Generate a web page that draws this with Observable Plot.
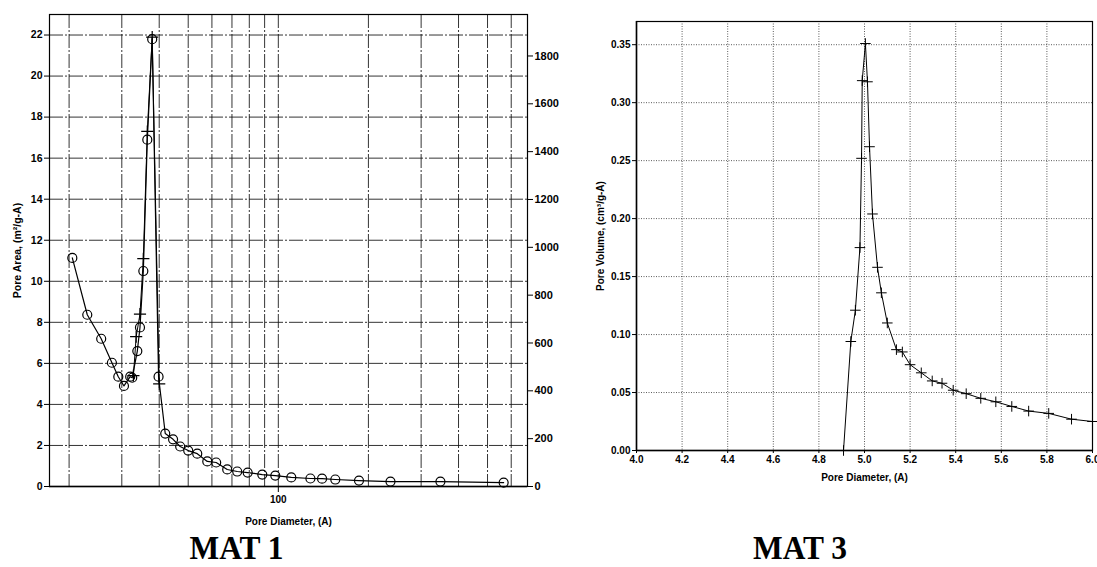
<!DOCTYPE html>
<html>
<head>
<meta charset="utf-8">
<script src="https://cdn.jsdelivr.net/npm/d3@7"></script>
<script src="https://cdn.jsdelivr.net/npm/@observablehq/plot@0.6"></script>
<style>
  html, body { margin: 0; padding: 0; background: white; }
  #wrap { position: relative; width: 1097px; height: 567px; background: white; overflow: hidden; }
  #p1 { position: absolute; left: 0; top: 0; }
  #p2 { position: absolute; left: 560px; top: 0; }
  #caps { position: absolute; left: 0; top: 0; }
</style>
</head>
<body>
<div id="wrap">
  <div id="p1"></div>
  <div id="p2"></div>
  <svg id="caps" width="1097" height="567" style="pointer-events:none"></svg>
</div>
<script>
// ---------- MAT 1 : pore area vs pore diameter (log x) ----------
const mat1Diam = [20.5, 23.0, 25.6, 27.8, 29.2, 30.5, 32.0, 32.5, 33.8, 34.5, 35.4, 36.5, 37.9, 39.8, 41.9, 44.5, 47.0, 50.0, 53.6, 57.9, 62.0, 67.5, 72.9, 79.0, 88.4, 97.7, 110.5, 128, 140, 155, 186, 237, 348, 566];
const mat1Area = [11.14, 8.37, 7.2, 6.03, 5.35, 4.9, 5.35, 5.3, 6.6, 7.75, 10.5, 16.9, 21.8, 5.35, 2.58, 2.3, 1.95, 1.75, 1.6, 1.22, 1.17, 0.83, 0.73, 0.68, 0.58, 0.53, 0.44, 0.39, 0.38, 0.34, 0.29, 0.24, 0.24, 0.19];
const mat1PlusDiam = [32.8, 33.5, 34.5, 35.4, 36.5, 37.9, 40.0];
const mat1PlusArea = [5.4, 7.3, 8.4, 11.1, 17.3, 21.9, 5.0];
const mat1LeftTicks = [0, 2, 4, 6, 8, 10, 12, 14, 16, 18, 20, 22];
const mat1RightTicks = [0, 200, 400, 600, 800, 1000, 1200, 1400, 1600, 1800];
const mat1RightPerLeft = 85.8; // right-axis units per left-axis unit
const mat1GridX = [20, 30, 40, 50, 60, 70, 80, 90, 100, 200, 300, 400, 500, 600];
const mat1XTicks = [100];

// ---------- MAT 3 : pore volume vs pore diameter ----------
const mat3Diam = [4.908, 4.94, 4.96, 4.98, 4.987, 4.99, 5.004, 5.013, 5.022, 5.035, 5.057, 5.074, 5.10, 5.14, 5.166, 5.20, 5.249, 5.297, 5.34, 5.389, 5.446, 5.51, 5.576, 5.646, 5.72, 5.808, 5.908, 6.0];
const mat3Vol = [0.0, 0.094, 0.121, 0.175, 0.252, 0.319, 0.351, 0.318, 0.262, 0.204, 0.158, 0.136, 0.110, 0.087, 0.085, 0.074, 0.067, 0.060, 0.058, 0.052, 0.049, 0.045, 0.042, 0.038, 0.034, 0.032, 0.027, 0.025];
const mat3XTicks = [4.0, 4.2, 4.4, 4.6, 4.8, 5.0, 5.2, 5.4, 5.6, 5.8, 6.0];
const mat3YTicks = [0.00, 0.05, 0.10, 0.15, 0.20, 0.25, 0.30, 0.35];

const captions = ["MAT 1", "MAT 3"];

const mat1 = mat1Diam.map((d, i) => ({d, a: mat1Area[i]}));
const mat1Plus = mat1PlusDiam.map((d, i) => ({d, a: mat1PlusArea[i]}));
const mat3 = mat3Diam.map((d, i) => ({d, v: mat3Vol[i]}));

const baseStyle = {fontFamily: "'Liberation Sans', Arial, sans-serif", fontWeight: "bold", fontSize: "10px", color: "black", background: "white"};

const gridStyle1 = {stroke: "#111", strokeOpacity: 0.85, strokeWidth: 1, strokeDasharray: "14,2,2,2"};

const plot1 = Plot.plot({
  width: 560, height: 530,
  marginLeft: 49, marginRight: 33, marginTop: 14, marginBottom: 44,
  style: baseStyle,
  x: {type: "log", domain: [17.2, 680]},
  y: {domain: [0, 23]},
  marks: [
    Plot.gridX(mat1GridX, gridStyle1),
    Plot.gridY(mat1LeftTicks.slice(1), gridStyle1),
    Plot.frame({stroke: "black", strokeWidth: 1.2}),
    Plot.ruleY([0], {stroke: "black", strokeWidth: 1.5}),
    Plot.line(mat1, {x: "d", y: "a", stroke: "black", strokeWidth: 1.2}),
    Plot.dot(mat1, {x: "d", y: "a", r: 4.5, stroke: "black", strokeWidth: 1.2, fill: "white", fillOpacity: 0}),
    Plot.line(mat1Plus, {x: "d", y: "a", stroke: "black", strokeWidth: 1}),
    Plot.dot(mat1Plus, {x: "d", y: "a", symbol: "plus", r: 4, stroke: "black", strokeWidth: 1.2}),
    Plot.axisY(mat1LeftTicks, {anchor: "left", tickSize: 5, tickPadding: 2, fontSize: 10.5,
      label: "Pore Area, (m²/g-A)", labelAnchor: "center", labelOffset: 36, labelArrow: "none"}),
    Plot.axisY(mat1RightTicks.map(v => v / mat1RightPerLeft), {anchor: "right", tickSize: 5, tickPadding: 2, fontSize: 11,
      tickFormat: (d, i) => String(mat1RightTicks[i]), label: null}),
    Plot.axisX(mat1XTicks, {anchor: "bottom", tickSize: 6, tickPadding: 3, tickFormat: d => String(d), fontSize: 10,
      label: "Pore Diameter, (A)", labelAnchor: "center", labelOffset: 38, labelArrow: "none"})
  ]
});
document.getElementById("p1").appendChild(plot1);

const plot2 = Plot.plot({
  width: 537, height: 500,
  marginLeft: 76, marginRight: 5, marginTop: 21, marginBottom: 50,
  style: baseStyle,
  x: {domain: [4, 6]},
  y: {domain: [0, 0.37]},
  marks: [
    Plot.gridX(mat3XTicks, {stroke: "#333", strokeOpacity: 0.8, strokeDasharray: "1,1.5"}),
    Plot.gridY(mat3YTicks, {stroke: "#333", strokeOpacity: 0.8, strokeDasharray: "1,1.5"}),
    Plot.frame({stroke: "black", strokeWidth: 1.2}),
    Plot.ruleY([0], {stroke: "black", strokeWidth: 1.5}),
    Plot.ruleX([4], {stroke: "black", strokeWidth: 1.5}),
    Plot.line(mat3, {x: "d", y: "v", stroke: "black", strokeWidth: 1}),
    Plot.dot(mat3, {x: "d", y: "v", symbol: "plus", r: 3.5, stroke: "black", strokeWidth: 1}),
    Plot.axisY(mat3YTicks, {anchor: "left", tickSize: 4, tickPadding: 2, tickFormat: d3.format(".2f"), fontSize: 10,
      label: "Pore Volume, (cm³/g-A)", labelAnchor: "center", labelOffset: 40, labelArrow: "none"}),
    Plot.axisX(mat3XTicks, {anchor: "bottom", tickSize: 3, tickPadding: 2, tickFormat: d3.format(".1f"), fontSize: 10,
      label: "Pore Diameter, (A)", labelAnchor: "center", labelOffset: 30, labelArrow: "none"})
  ]
});
document.getElementById("p2").appendChild(plot2);

// captions below the panels
const caps = d3.select("#caps");
const capX = [236.5, 800];
captions.forEach((t, i) => {
  caps.append("text")
    .attr("x", capX[i]).attr("y", 559)
    .attr("text-anchor", "middle")
    .attr("font-family", "'Liberation Serif', 'Times New Roman', serif")
    .attr("font-weight", "bold")
    .attr("font-size", 34)
    .attr("textLength", 94)
    .attr("lengthAdjust", "spacingAndGlyphs")
    .text(t);
});
</script>
</body>
</html>
